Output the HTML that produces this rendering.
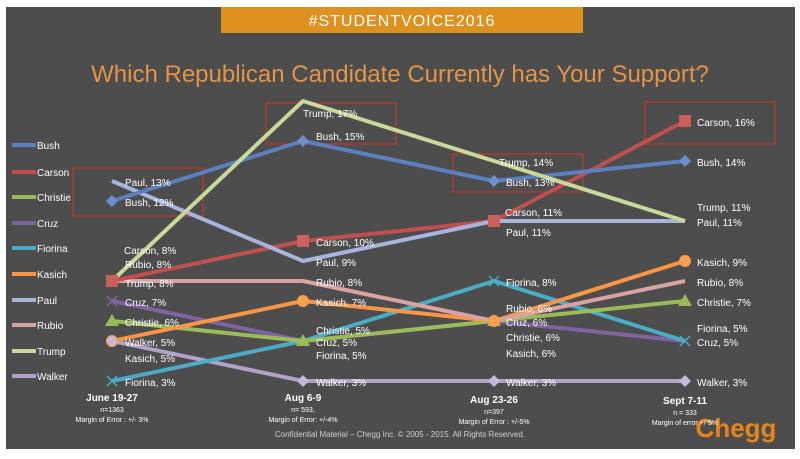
<!DOCTYPE html>
<html><head><meta charset="utf-8"><style>
html,body{margin:0;padding:0;background:#fff;}
svg{display:block}
text{font-family:"Liberation Sans",sans-serif;}
.l{fill:#fff;font-size:10px;}
</style></head><body>
<svg width="800" height="459" viewBox="0 0 800 459">
<rect x="0" y="0" width="800" height="459" fill="#fff"/>
<rect x="6" y="7" width="789" height="442" fill="#4d4d4d"/>
<rect x="221" y="7" width="362" height="26" fill="#df9120"/>
<text x="402" y="26" fill="#fff" font-size="16" text-anchor="middle" letter-spacing="1">#STUDENTVOICE2016</text>
<text x="400" y="82" fill="#e39446" font-size="24" text-anchor="middle">Which Republican Candidate Currently has Your Support?</text>

<g fill="none" stroke="#c0392b" stroke-width="1.2">
<rect x="73" y="168" width="130" height="48"/>
<rect x="266" y="103" width="130" height="41"/>
<rect x="453" y="154" width="130" height="38"/>
<rect x="645" y="102" width="130" height="42"/>
</g>

<g fill="none" stroke-width="4" stroke-linejoin="round">
<polyline stroke="#b3a2c7" points="112,341 303,381 494,381 685,381"/>
<polyline stroke="#8064a2" points="112,301 303,341 494,321 685,341"/>
<polyline stroke="#4bacc6" points="112,381 303,341 494,281 685,341"/>
<polyline stroke="#9bbb59" points="112,321 303,341 494,321 685,301"/>
<polyline stroke="#f79646" points="112,341 303,301 494,321 685,261"/>
<polyline stroke="#d9a3a3" points="112,281 303,281 494,321 685,281"/>
<polyline stroke="#c0504d" points="112,281 303,241 494,221 685,121"/>
<polyline stroke="#a9b4dd" points="112,181 303,261 494,221 685,221"/>
<polyline stroke="#5b7fbf" points="112,201 303,141 494,181 685,161"/>
<polyline stroke="#c8d99a" points="112,281 303,101 494,161 685,221"/>
</g>
<g>
<g fill="#6c8fd0"><path d="M112,195l6,6-6,6-6-6z"/><path d="M303,135l6,6-6,6-6-6z"/><path d="M494,175l6,6-6,6-6-6z"/><path d="M685,155l6,6-6,6-6-6z"/></g>
<g fill="#c9605c"><rect x="106" y="275" width="12" height="12"/><rect x="297" y="235" width="12" height="12"/><rect x="488" y="215" width="12" height="12"/><rect x="679" y="115" width="12" height="12"/></g>
<g fill="#9bbb59"><path d="M112,314l7,12h-14z"/><path d="M303,334l7,12h-14z"/><path d="M494,314l7,12h-14z"/><path d="M685,294l7,12h-14z"/></g>
<g fill="#f7a050"><circle cx="112" cy="341" r="6"/><circle cx="303" cy="301" r="6"/><circle cx="494" cy="321" r="6"/><circle cx="685" cy="261" r="6"/></g>
<g fill="#c6b8db"><path d="M112,335l6,6-6,6-6-6z"/><path d="M303,375l6,6-6,6-6-6z"/><path d="M494,375l6,6-6,6-6-6z"/><path d="M685,375l6,6-6,6-6-6z"/></g>
<g stroke="#4bacc6" stroke-width="1.5"><path d="M107,376l10,10M117,376l-10,10M489,276l10,10M499,276l-10,10M680,336l10,10M690,336l-10,10"/></g>
<g stroke="#8064a2" stroke-width="1.5"><path d="M107,296l10,10M117,296l-10,10"/></g>
</g>

<g class="l">
<text x="125" y="186">Paul, 13%</text><text x="125" y="206">Bush, 12%</text>
<text x="124" y="254">Carson, 8%</text><text x="125" y="268">Rubio, 8%</text>
<text x="125" y="287">Trump, 8%</text><text x="125" y="306">Cruz, 7%</text>
<text x="125" y="326">Christie, 6%</text><text x="125" y="346">Walker, 5%</text>
<text x="125" y="362">Kasich, 5%</text><text x="125" y="386">Fiorina, 3%</text>

<text x="303" y="117">Trump, 17%</text><text x="316" y="140">Bush, 15%</text>
<text x="316" y="246">Carson, 10%</text><text x="316" y="266">Paul, 9%</text>
<text x="316" y="286">Rubio, 8%</text><text x="316" y="306">Kasich, 7%</text>
<text x="316" y="334">Christie, 5%</text><text x="316" y="346">Cruz, 5%</text>
<text x="316" y="359">Fiorina, 5%</text><text x="316" y="386">Walker, 3%</text>

<text x="499" y="166">Trump, 14%</text><text x="506" y="186">Bush, 13%</text>
<text x="505" y="216">Carson, 11%</text><text x="506" y="236">Paul, 11%</text>
<text x="506" y="286">Fiorina, 8%</text><text x="506" y="312">Rubio, 6%</text>
<text x="506" y="326">Cruz, 6%</text><text x="506" y="341">Christie, 6%</text>
<text x="506" y="357">Kasich, 6%</text><text x="506" y="386">Walker, 3%</text>

<text x="697" y="126">Carson, 16%</text><text x="697" y="166">Bush, 14%</text>
<text x="697" y="211">Trump, 11%</text><text x="697" y="226">Paul, 11%</text>
<text x="697" y="266">Kasich, 9%</text><text x="697" y="286">Rubio, 8%</text>
<text x="697" y="306">Christie, 7%</text><text x="697" y="332">Fiorina, 5%</text>
<text x="697" y="346">Cruz, 5%</text><text x="697" y="386">Walker, 3%</text>
</g>

<g stroke-width="4">
<line x1="12" y1="145" x2="36" y2="145" stroke="#5b7fbf"/>
<line x1="12" y1="172" x2="36" y2="172" stroke="#c0504d"/>
<line x1="12" y1="197" x2="36" y2="197" stroke="#9bbb59"/>
<line x1="12" y1="223" x2="36" y2="223" stroke="#8064a2"/>
<line x1="12" y1="248" x2="36" y2="248" stroke="#4bacc6"/>
<line x1="12" y1="274" x2="36" y2="274" stroke="#f79646"/>
<line x1="12" y1="300" x2="36" y2="300" stroke="#a9b4dd"/>
<line x1="12" y1="325" x2="36" y2="325" stroke="#d9a3a3"/>
<line x1="12" y1="351" x2="36" y2="351" stroke="#c8d99a"/>
<line x1="12" y1="376" x2="36" y2="376" stroke="#b3a2c7"/>
</g>
<g class="l">
<text x="37" y="149">Bush</text><text x="37" y="176">Carson</text><text x="37" y="201">Christie</text>
<text x="37" y="227">Cruz</text><text x="37" y="252">Fiorina</text><text x="37" y="278">Kasich</text>
<text x="37" y="304">Paul</text><text x="37" y="329">Rubio</text><text x="37" y="355">Trump</text>
<text x="37" y="380">Walker</text>
</g>

<g fill="#fff" text-anchor="middle">
<text x="112" y="401" font-size="10" font-weight="bold">June 19-27</text>
<text x="112" y="412" font-size="7">n=1363</text>
<text x="112" y="422" font-size="7">Margin of Error : +/- 3%</text>
<text x="303" y="401" font-size="10" font-weight="bold">Aug 6-9</text>
<text x="303" y="412" font-size="7">n= 593,</text>
<text x="303" y="422" font-size="7">Margin of Error: +/-4%</text>
<text x="494" y="403" font-size="10" font-weight="bold">Aug 23-26</text>
<text x="494" y="414" font-size="7">n=397</text>
<text x="494" y="424" font-size="7">Margin of Error : +/-5%</text>
<text x="685" y="404" font-size="10" font-weight="bold">Sept 7-11</text>
</g>
<text x="736" y="437" fill="#e8841c" font-size="26" font-weight="bold" text-anchor="middle">Chegg</text>
<g fill="#fff" text-anchor="middle">
<text x="685" y="415" font-size="7">n = 333</text>
<text x="685" y="425" font-size="7">Margin of error +/-5%</text>
</g>
<text x="400" y="437" fill="#d0d0d0" font-size="8" text-anchor="middle">Confidential Material – Chegg Inc. © 2005 - 2015. All Rights Reserved.</text>
</svg>
</body></html>
